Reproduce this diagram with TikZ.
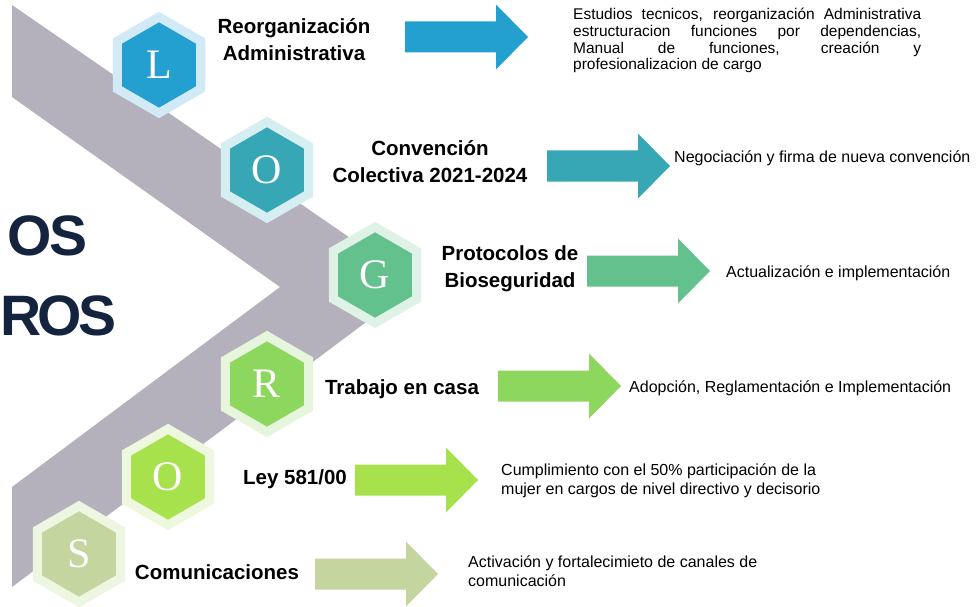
\documentclass[tikz,border=0pt]{standalone}
\usepackage{fontspec}
\setmainfont{Liberation Sans}
\newfontfamily\letterfont{Liberation Serif}
\usetikzlibrary{shapes.geometric}

% colores
\definecolor{chevgray}{HTML}{B4B1BC}
\definecolor{navy}{HTML}{14243F}
\definecolor{cL}{HTML}{239FD0}\definecolor{hL}{HTML}{D1EAF5}
\definecolor{cO}{HTML}{37A7B5}\definecolor{hO}{HTML}{D5EEF1}
\definecolor{cG}{HTML}{63C18D}\definecolor{hG}{HTML}{DFF2E6}
\definecolor{cR}{HTML}{8ED75F}\definecolor{hR}{HTML}{E6F6DD}
\definecolor{cOb}{HTML}{A7E14B}\definecolor{hOb}{HTML}{EEF8DF}
\definecolor{cS}{HTML}{C4D59F}\definecolor{hS}{HTML}{EDF6E1}

\tikzset{
  hexa/.style 2 args={regular polygon, regular polygon sides=6, shape border rotate=30,
    minimum size=96pt, inner sep=0pt, fill=#1, draw=#2, line width=9pt,
    text=white, font=\letterfont\fontsize{42}{42}\selectfont},
  bigtitle/.style={font=\bfseries\fontsize{57}{57}\selectfont\addfontfeature{LetterSpace=#1},
    text=navy, inner sep=0pt},
  steptitle/.style={font=\bfseries\fontsize{20.5}{27}\selectfont, align=center, inner sep=0pt},
  stepnote/.style={font=\fontsize{16}{18.5}\selectfont, align=left, inner sep=0pt},
  blockarrow/.pic={
    \path[pic actions] (0,-15.5) -- (91,-15.5) -- (91,-32.5) -- (123,0)
      -- (91,32.5) -- (91,15.5) -- (0,15.5) -- cycle;
  }
}

\begin{document}
\begin{tikzpicture}[x=1pt, y=-1pt]
  \useasboundingbox (0,0) rectangle (980,607);

  % chevron gris
  \fill[chevgray] (12,5) -- (417,284) -- (12,587) -- (12,487) -- (280,287) -- (12,97) -- cycle;

  % titulo cortado
  \node[bigtitle=-3, anchor=base east] (big1) at (88,255) {OS};
  \node[bigtitle=-6, anchor=base west] (big2) at (0,335) {ROS};

  % hexagonos y flechas
  \foreach \i/\x/\y/\col/\halo/\ltr/\ax/\ay in {1/159/65/cL/hL/L/405/37, 2/267/170/cO/hO/O/547/166,
      3/375/275/cG/hG/G/587/271, 4/267/384/cR/hR/R/498/386,
      5/168/477/cOb/hOb/O/355/480, 6/79/554/cS/hS/S/315/574} {
    \node[hexa={\col}{\halo}] (hex\i) at (\x,\y) {\ltr};
    \pic[fill=\col] (arr\i) at (\ax,\ay) {blockarrow};
  }

  % titulos
  \node[steptitle] (tit1) at (294,40) {Reorganización\\Administrativa};
  \node[steptitle] (tit2) at (430,162) {Convención\\Colectiva 2021-2024};
  \node[steptitle] (tit3) at (510,269) {Protocolos de\\Bioseguridad};
  \node[steptitle, anchor=base] (tit4) at (402,394) {Trabajo en casa};
  \node[steptitle, anchor=base] (tit5) at (295,484) {Ley 581/00};
  \node[steptitle, anchor=base] (tit6) at (217,579) {Comunicaciones};

  % descripciones
  \node[stepnote, anchor=north west, text width=348pt, align=justify,
    font=\fontsize{15.5}{16.7}\selectfont] (note1) at (573,8)
    {Estudios tecnicos, reorganización Administrativa\linebreak
     estructuracion funciones por dependencias,\linebreak
     Manual de funciones, creación y\linebreak
     profesionalizacion de cargo};
  \node[stepnote, anchor=base west] (note2) at (674,163) {Negociación y firma de nueva convención};
  \node[stepnote, anchor=base west] (note3) at (726,277) {Actualización e implementación};
  \node[stepnote, anchor=base west] (note4) at (629,392) {Adopción, Reglamentación e Implementación};
  \node[stepnote, anchor=north west] (note5) at (501,464)
    {Cumplimiento con el 50\% participación de la\\mujer en cargos de nivel directivo y decisorio};
  \node[stepnote, anchor=north west] (note6) at (468,556)
    {Activación y fortalecimieto de canales de\\comunicación};
\end{tikzpicture}
\end{document}
